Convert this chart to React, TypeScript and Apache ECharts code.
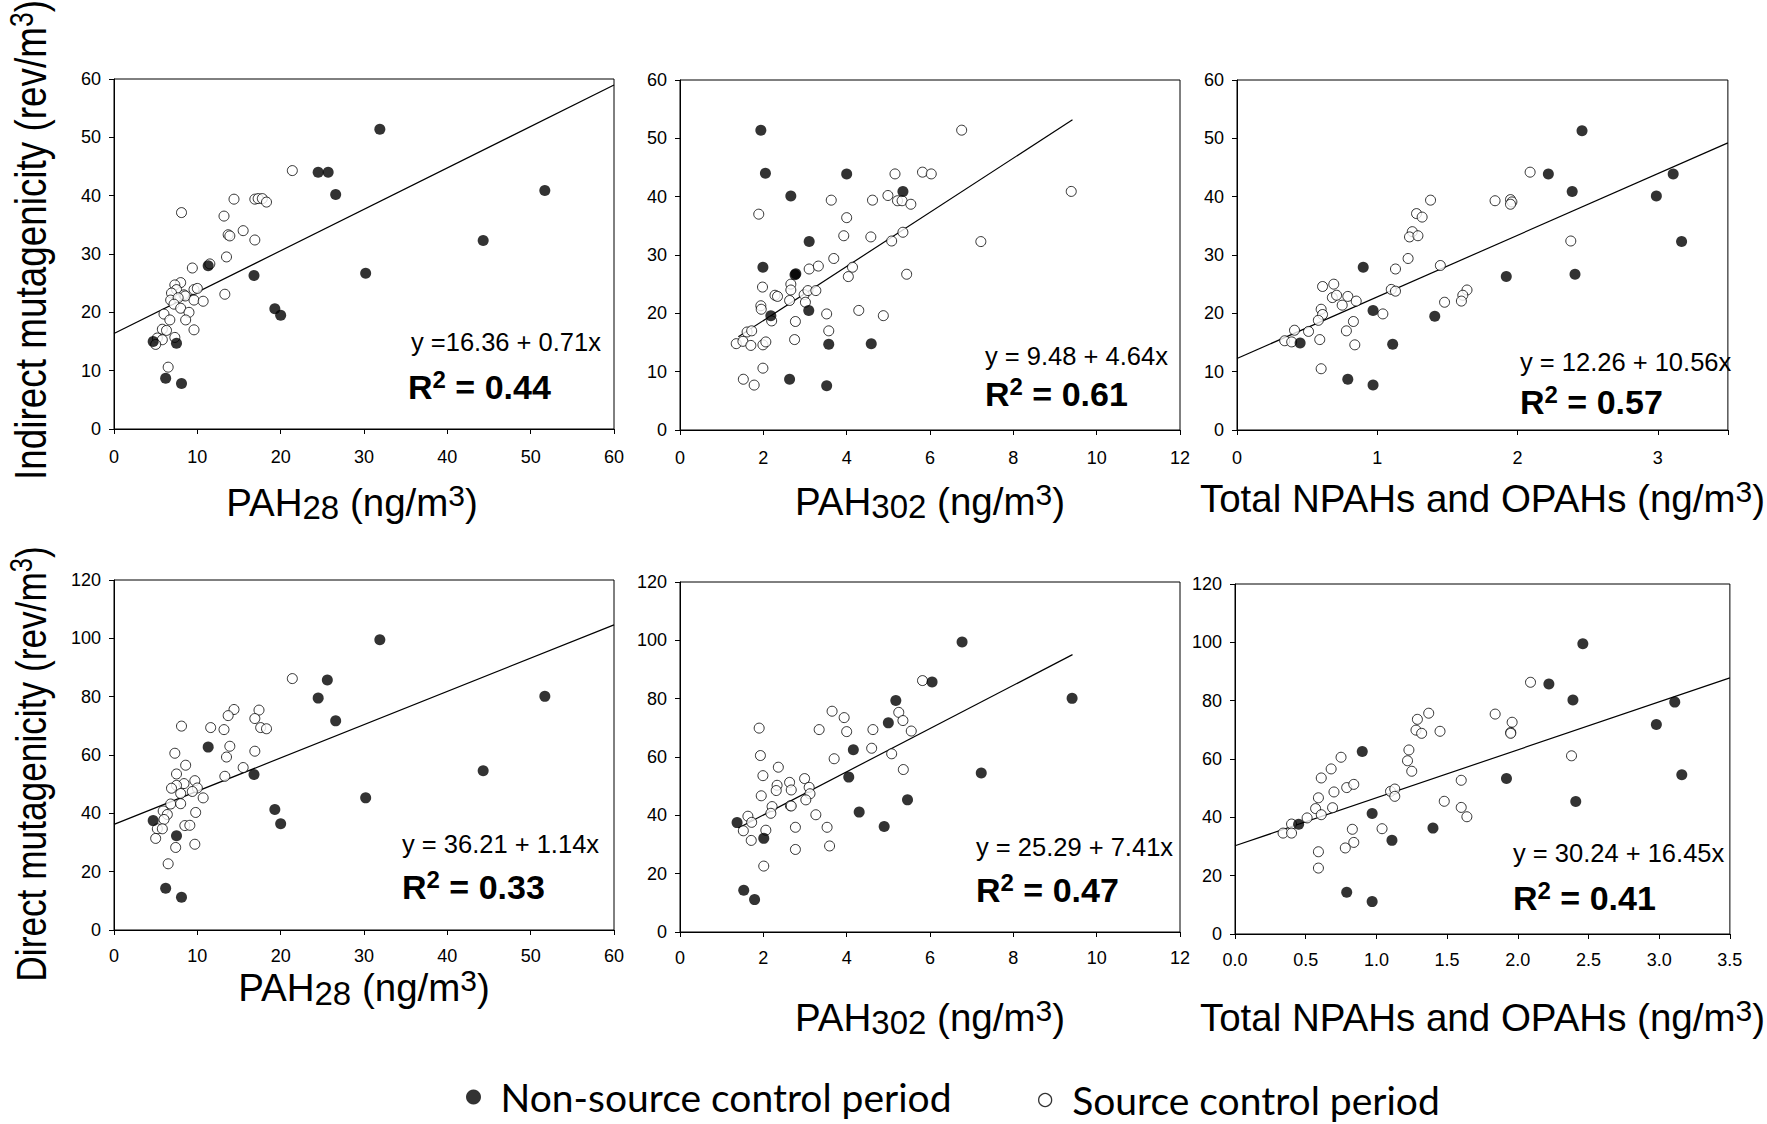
import React, { useEffect, useRef } from 'react';
import * as echarts from 'echarts';

const FONT = '"Liberation Sans", Arial, Helvetica, sans-serif';
const LEGEND_FONT = 'Lato, "Open Sans", sans-serif';

// ---- data ----
// Top row: indirect mutagenicity (rev/m3); bottom row: direct mutagenicity (rev/m3)
const nonSource1 = [[31.9,51.4],[24.5,44.0],[25.7,44.0],[26.6,40.2],[51.7,40.9],[44.3,32.3],[30.2,26.7],[11.3,28.0],[16.8,26.3],[19.3,20.6],[20.0,19.5],[4.7,15.0],[7.5,14.7],[6.2,8.7],[8.1,7.8]];
const source1 = [[21.4,44.3],[14.4,39.4],[16.9,39.4],[17.3,39.5],[17.8,39.5],[18.3,38.9],[8.1,37.1],[13.2,36.5],[15.5,34.0],[13.7,33.3],[13.9,33.1],[16.9,32.4],[13.5,29.5],[9.4,27.6],[11.5,28.3],[8.0,25.1],[7.3,24.7],[7.5,23.9],[6.9,23.3],[8.4,23.0],[8.55,22.8],[9.6,23.9],[10.0,24.1],[6.8,22.1],[7.7,22.5],[7.2,21.4],[9.6,22.1],[10.7,21.9],[13.3,23.1],[8.0,20.7],[9.0,20.0],[6.0,19.7],[6.7,18.7],[8.6,18.7],[5.8,17.1],[6.3,16.9],[9.6,17.0],[5.2,15.6],[5.8,15.3],[5.0,14.5],[7.3,15.7],[6.5,10.6]];

const nonSource2 = [[1.94,51.4],[2.05,44.0],[4.0,43.9],[2.66,40.1],[5.35,40.9],[3.1,32.3],[1.99,27.9],[2.76,26.6],[2.78,26.8],[2.18,19.6],[3.09,20.5],[3.57,14.7],[4.59,14.8],[2.63,8.7],[3.52,7.6]];
const source2 = [[6.76,51.4],[5.16,43.9],[5.82,44.2],[6.03,43.9],[4.99,40.2],[9.39,40.9],[3.63,39.4],[4.62,39.4],[5.22,39.3],[5.33,39.3],[5.54,38.7],[1.89,37.0],[4.0,36.4],[3.93,33.3],[4.58,33.1],[5.35,33.9],[5.08,32.4],[7.22,32.3],[3.69,29.4],[3.1,27.6],[3.32,28.1],[4.14,27.9],[4.04,26.3],[5.44,26.7],[1.98,24.5],[2.28,23.1],[2.34,22.9],[2.66,25.0],[2.66,24.0],[2.63,22.2],[2.98,23.2],[3.07,23.9],[3.26,23.9],[3.01,21.9],[1.94,21.3],[1.95,20.7],[2.2,18.7],[2.77,18.6],[3.52,19.9],[4.29,20.5],[4.88,19.6],[1.61,16.8],[1.72,17.0],[3.57,17.0],[1.35,14.8],[1.51,15.2],[1.70,14.5],[1.99,14.6],[2.06,15.1],[2.75,15.5],[1.99,10.6],[1.52,8.7],[1.78,7.7]];

const nonSource3 = [[2.46,51.3],[2.22,43.9],[3.11,43.9],[2.39,40.9],[2.99,40.1],[3.17,32.3],[0.90,27.9],[1.92,26.3],[2.41,26.7],[0.97,20.5],[1.41,19.5],[0.45,14.9],[1.11,14.7],[0.79,8.7],[0.97,7.7]];
const source3 = [[2.09,44.2],[1.84,39.3],[1.95,39.5],[1.96,39.1],[1.95,38.7],[1.38,39.4],[1.28,37.1],[1.32,36.5],[1.25,34.0],[1.23,33.1],[1.29,33.3],[2.38,32.4],[1.22,29.4],[1.13,27.6],[1.45,28.2],[1.10,24.1],[1.13,23.8],[1.64,24.0],[1.61,23.1],[1.60,22.1],[1.48,21.9],[1.04,19.9],[0.61,24.6],[0.69,25.0],[0.68,22.7],[0.71,23.1],[0.75,21.4],[0.79,22.9],[0.85,22.1],[0.60,20.7],[0.61,19.8],[0.58,18.8],[0.83,18.6],[0.78,17.0],[0.51,16.9],[0.41,17.1],[0.34,15.3],[0.39,15.1],[0.59,15.5],[0.84,14.6],[0.60,10.5]];

const nonSource4 = [[31.9,99.5],[25.6,85.7],[24.5,79.5],[51.7,80.1],[26.6,71.7],[11.3,62.7],[16.8,53.3],[44.3,54.6],[30.2,45.3],[19.3,41.3],[20.0,36.4],[4.7,37.5],[7.5,32.3],[6.2,14.3],[8.1,11.2]];
const source4 = [[21.4,86.2],[14.4,75.6],[17.4,75.4],[13.7,73.5],[16.9,72.5],[8.1,69.9],[11.6,69.4],[13.2,68.7],[17.6,69.4],[18.3,69.0],[13.9,63.0],[16.9,61.3],[13.5,59.3],[7.3,60.6],[8.6,56.5],[15.5,55.7],[7.5,53.5],[13.3,52.7],[9.7,51.2],[8.4,50.2],[7.5,49.6],[6.9,48.6],[10.0,48.7],[9.4,47.5],[8.0,46.8],[10.7,45.3],[6.8,43.2],[8.0,43.3],[5.9,40.8],[6.4,39.6],[9.8,40.3],[6.0,37.9],[8.5,35.8],[9.1,35.9],[5.2,34.7],[5.8,34.7],[5.0,31.4],[7.4,28.3],[9.7,29.4],[6.5,22.7]];

const nonSource5 = [[6.77,99.4],[6.05,85.7],[5.18,79.4],[9.41,80.1],[5.0,71.7],[4.16,62.5],[4.05,53.1],[7.23,54.5],[5.46,45.3],[4.30,41.1],[4.90,36.2],[1.37,37.5],[2.01,32.1],[1.53,14.3],[1.79,11.1]];
const source5 = [[5.82,86.2],[3.65,75.7],[3.94,73.5],[5.25,75.3],[5.35,72.5],[3.34,69.4],[4.0,68.7],[4.63,69.4],[5.55,68.9],[1.90,69.9],[4.60,63.0],[5.08,61.1],[1.93,60.5],[3.70,59.4],[5.36,55.7],[2.36,56.5],[1.99,53.6],[2.33,50.3],[2.31,48.5],[2.63,51.3],[2.99,52.6],[2.67,48.7],[3.10,49.6],[3.12,47.4],[3.02,45.3],[1.95,46.7],[2.21,43.0],[2.18,40.7],[2.65,43.3],[2.67,43.2],[3.26,40.2],[1.63,39.7],[1.72,37.6],[1.52,34.7],[2.06,34.9],[2.77,35.9],[3.53,35.9],[1.71,31.4],[2.77,28.3],[3.59,29.5],[2.01,22.6]];

const nonSource6 = [[2.46,99.5],[2.22,85.7],[2.39,80.2],[3.11,79.5],[2.98,71.8],[0.90,62.6],[1.92,53.3],[3.16,54.6],[2.41,45.4],[0.97,41.3],[1.40,36.3],[0.45,37.6],[1.11,32.1],[0.79,14.3],[0.97,11.1]];
const source6 = [[2.09,86.3],[1.84,75.4],[1.37,75.7],[1.29,73.6],[1.96,72.6],[1.95,69.1],[1.95,68.8],[1.28,69.9],[1.32,68.8],[1.45,69.5],[2.38,61.1],[1.23,63.1],[1.22,59.4],[1.25,55.8],[0.75,60.6],[0.68,56.6],[0.61,53.5],[0.70,48.7],[0.79,50.2],[0.84,51.3],[1.60,52.7],[1.10,48.9],[1.13,49.7],[1.13,47.2],[0.59,46.7],[0.57,43.0],[0.69,43.3],[1.48,45.5],[1.60,43.4],[1.64,40.2],[0.61,40.9],[0.51,39.8],[0.40,37.7],[0.34,34.6],[0.40,34.6],[1.04,36.1],[0.83,35.9],[0.78,29.5],[0.84,31.4],[0.59,28.2],[0.59,22.6]];

const nonSourceSets = [nonSource1, nonSource2, nonSource3, nonSource4, nonSource5, nonSource6];
const sourceSets = [source1, source2, source3, source4, source5, source6];

const intercepts = [16.36, 9.48, 12.26, 36.21, 25.29, 30.24];
const slopes = [0.71, 4.64, 10.56, 1.14, 7.41, 16.45];
const fitRanges = [[0, 60], [1.4, 9.42], [0, 3.5], [0, 60], [1.4, 9.42], [0, 3.5]];
const r2Values = [0.44, 0.61, 0.57, 0.33, 0.47, 0.41];
const eqLabels = ['y =16.36 + 0.71x', 'y = 9.48 + 4.64x', 'y = 12.26 + 10.56x', 'y = 36.21 + 1.14x', 'y = 25.29 + 7.41x', 'y = 30.24 + 16.45x'];

const xMaxes = [60, 12, 3.5, 60, 12, 3.5];
const xIntervals = [10, 2, 1, 10, 2, 0.5];
const yMaxes = [60, 60, 60, 120, 120, 120];
const yIntervals = [10, 10, 10, 20, 20, 20];
const xTitles = [
  '{a|PAH}{s|28}{a| (ng/m}{p|3}{a|)}',
  '{a|PAH}{s|302}{a| (ng/m}{p|3}{a|)}',
  '{a|Total NPAHs and OPAHs (ng/m}{p|3}{a|)}',
  '{a|PAH}{s|28}{a| (ng/m}{p|3}{a|)}',
  '{a|PAH}{s|302}{a| (ng/m}{p|3}{a|)}',
  '{a|Total NPAHs and OPAHs (ng/m}{p|3}{a|)}',
];
const yTitles = ['Indirect mutagenicity (rev/m', 'Direct mutagenicity (rev/m'];
const legendNames = ['Non-source control period', 'Source control period'];

// ---- layout ----
const grids = [
  { left: 114, top: 79, width: 500, height: 350 },
  { left: 680, top: 80, width: 500, height: 350 },
  { left: 1237, top: 80, width: 499, height: 350 },
  { left: 114, top: 580, width: 500, height: 350 },
  { left: 680, top: 582, width: 500, height: 350 },
  { left: 1235, top: 584, width: 501, height: 350 },
];
const nameGaps = [51, 49, 46, 35, 63, 61];
const namePads = [[0, 24, 0, 0], [0, 0, 0, 0], [0, 0, 0, 0], [0, 0, 0, 0], [0, 0, 0, 0], [0, 0, 0, 0]];
const eqPos = [[411, 342], [985, 356], [1520, 362], [402, 844], [976, 847], [1513, 853]];
const r2Pos = [[408, 387], [985, 394], [1520, 402], [402, 887], [976, 890], [1513, 898]];
const yTitlePos = [[31, 240], [31, 764]];
const yTitleSizes = [45, 43];

const titleRich = {
  a: { fontSize: 38.5, fontFamily: FONT, color: '#000', lineHeight: 44 },
  s: { fontSize: 33, fontFamily: FONT, color: '#000', lineHeight: 31, verticalAlign: 'bottom' },
  p: { fontSize: 30, fontFamily: FONT, color: '#000', lineHeight: 29, verticalAlign: 'top' },
};

function xLabelFormatter(i: number) {
  return (v: number) => {
    if (i === 2) return Number.isInteger(v) ? String(v) : '';
    if (i === 5) return v.toFixed(1);
    return String(v);
  };
}

function buildOption() {
  const xAxis = grids.map((_, i) => ({
    type: 'value',
    gridIndex: i,
    min: 0,
    max: xMaxes[i],
    interval: xIntervals[i],
    axisLine: { show: true, onZero: false, lineStyle: { color: '#000', width: 1 } },
    axisTick: { show: true, inside: false, length: 5, lineStyle: { color: '#000', width: 1 } },
    axisLabel: { color: '#000', fontSize: 18, fontFamily: FONT, margin: i < 3 ? 19 : 17, formatter: xLabelFormatter(i) },
    splitLine: { show: false },
    name: xTitles[i],
    nameLocation: 'middle',
    nameGap: nameGaps[i],
    nameTextStyle: { rich: titleRich, padding: namePads[i] },
  }));
  const yAxis = grids.map((_, i) => ({
    type: 'value',
    gridIndex: i,
    min: 0,
    max: yMaxes[i],
    interval: yIntervals[i],
    axisLine: { show: true, onZero: false, lineStyle: { color: '#000', width: 1 } },
    axisTick: { show: true, inside: false, length: 5, lineStyle: { color: '#000', width: 1 } },
    axisLabel: { color: '#000', fontSize: 18, fontFamily: FONT, margin: 13 },
    splitLine: { show: false },
  }));
  const series: any[] = [];
  grids.forEach((_, i) => {
    const [x0, x1] = fitRanges[i];
    series.push({
      type: 'line',
      xAxisIndex: i,
      yAxisIndex: i,
      data: [[x0, intercepts[i] + slopes[i] * x0], [x1, intercepts[i] + slopes[i] * x1]],
      symbol: 'none',
      lineStyle: { color: '#000', width: 1.2 },
      z: 1,
      silent: true,
    });
    series.push({
      name: legendNames[1],
      type: 'scatter',
      xAxisIndex: i,
      yAxisIndex: i,
      data: sourceSets[i],
      symbol: 'circle',
      symbolSize: 10,
      itemStyle: { color: '#fff', borderColor: '#000', borderWidth: 1 },
      z: 3,
    });
    series.push({
      name: legendNames[0],
      type: 'scatter',
      xAxisIndex: i,
      yAxisIndex: i,
      data: nonSourceSets[i],
      symbol: 'circle',
      symbolSize: 11,
      itemStyle: { color: '#000' },
      z: 4,
    });
  });

  const graphic: any[] = [];
  grids.forEach((_, i) => {
    graphic.push({
      type: 'text',
      x: eqPos[i][0],
      y: eqPos[i][1],
      style: { text: eqLabels[i], fontSize: 25.5, fontFamily: FONT, fill: '#000', align: 'left', verticalAlign: 'middle' },
    });
    graphic.push({
      type: 'text',
      x: r2Pos[i][0],
      y: r2Pos[i][1],
      style: {
        text: '{r|R}{s|2}{r| = ' + r2Values[i].toFixed(2) + '}',
        align: 'left',
        verticalAlign: 'middle',
        rich: {
          r: { fontSize: 34, fontWeight: 'bold', fontFamily: FONT, fill: '#000', lineHeight: 40 },
          s: { fontSize: 24, fontWeight: 'bold', fontFamily: FONT, fill: '#000', lineHeight: 24, verticalAlign: 'top' },
        },
      },
    });
  });
  yTitles.forEach((t, k) => {
    graphic.push({
      type: 'text',
      x: yTitlePos[k][0],
      y: yTitlePos[k][1],
      rotation: Math.PI / 2,
      scaleX: 0.82,
      scaleY: 1,
      style: {
        text: '{a|' + t + '}{p|3}{a|)}',
        align: 'center',
        verticalAlign: 'middle',
        rich: {
          a: { fontSize: yTitleSizes[k], fontFamily: FONT, fill: '#000', lineHeight: 50 },
          p: { fontSize: yTitleSizes[k] * 0.72, fontFamily: FONT, fill: '#000', lineHeight: 31, verticalAlign: 'top' },
        },
      },
    });
  });

  const legendText = { fontFamily: LEGEND_FONT, fontSize: 39, color: '#000', lineHeight: 42 };
  return {
    animation: false,
    backgroundColor: '#fff',
    grid: grids.map((g) => ({ ...g, show: true, borderColor: '#000', borderWidth: 1, backgroundColor: 'transparent' })),
    xAxis,
    yAxis,
    series,
    graphic,
    legend: [
      {
        data: [legendNames[0]],
        left: 461,
        top: 1071,
        itemWidth: 44,
        itemHeight: 15,
        selectedMode: false,
        textStyle: legendText,
        itemStyle: { color: '#000' },
      },
      {
        data: [legendNames[1]],
        left: 1033,
        top: 1074,
        itemWidth: 44,
        itemHeight: 13,
        selectedMode: false,
        textStyle: legendText,
        itemStyle: { color: '#fff', borderColor: '#000', borderWidth: 1.3 },
      },
    ],
  };
}

export default function App() {
  const ref = useRef<HTMLDivElement>(null);
  useEffect(() => {
    document.body.style.margin = '0';
    if (!ref.current) return;
    const chart = echarts.init(ref.current, undefined, { renderer: 'svg' });
    chart.setOption(buildOption() as any);
    return () => chart.dispose();
  }, []);
  return <div ref={ref} style={{ width: 1767, height: 1124 }} />;
}
